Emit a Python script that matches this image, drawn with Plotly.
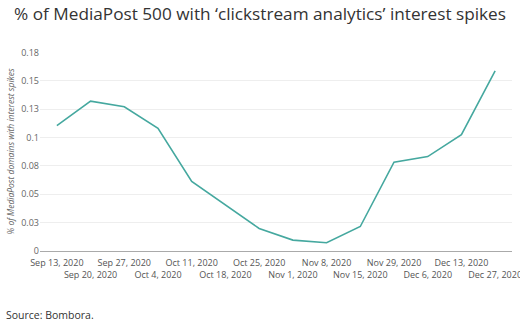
import plotly.graph_objects as go

weeks = ["Sep 13, 2020", "Sep 20, 2020", "Sep 27, 2020", "Oct 4, 2020", "Oct 11, 2020",
         "Oct 18, 2020", "Oct 25, 2020", "Nov 1, 2020", "Nov 8, 2020", "Nov 15, 2020",
         "Nov 29, 2020", "Dec 6, 2020", "Dec 13, 2020", "Dec 27, 2020"]
share = [0.1105, 0.1322, 0.1272, 0.1082, 0.0614, 0.0404, 0.0199, 0.0096, 0.0073,
         0.0216, 0.0784, 0.0833, 0.1026, 0.1588]
y_ticks = [0, 0.025, 0.05, 0.075, 0.1, 0.125, 0.15, 0.175]
y_labels = ["0", "0.03", "0.05", "0.08", "0.1", "0.13", "0.15", "0.18"]

tick_text = [w if i % 2 == 0 else "<br>" + w for i, w in enumerate(weeks)]

fig = go.Figure()
fig.add_trace(go.Scatter(x=list(range(len(weeks))), y=share, mode="lines",
                         line=dict(color="#45a89f", width=1.6), hoverinfo="skip"))

fig.update_layout(
    width=520, height=325,
    margin=dict(l=40, r=8, t=52, b=74),
    paper_bgcolor="white", plot_bgcolor="white",
    font=dict(family="Open Sans", color="#555555", size=9),
    showlegend=False,
    title=dict(text="% of MediaPost 500 with \u2018clickstream analytics\u2019 interest spikes",
               x=0.5, xanchor="center", y=1 - 14 / 325, yanchor="middle",
               font=dict(family="Open Sans", size=17.2, color="#333333")),
    xaxis=dict(tickmode="array", tickvals=list(range(len(weeks))), ticktext=tick_text,
               range=[-0.5, len(weeks) - 0.5], showgrid=False, zeroline=False,
               showline=True, linecolor="#aaaaaa", linewidth=1, ticks="",
               ticklabeloverflow="allow", ticklabelstandoff=3, automargin=False,
               tickfont=dict(size=9, color="#555555"), tickangle=0),
    yaxis=dict(tickmode="array", tickvals=y_ticks, ticktext=y_labels, range=[0, 0.1755],
               showgrid=True, gridcolor="#eeeeee", zeroline=False, showline=False,
               ticks="", tickfont=dict(size=9, color="#666666"), automargin=False,
               title=dict(text="<i>% of MediaPost domains with interest spikes</i>",
                          font=dict(size=8.5, color="#666666"), standoff=5)),
    annotations=[dict(text="Source: Bombora.", xref="paper", yref="paper",
                      x=-36 / 472, y=-(315 - 251) / 199.5, xanchor="left", yanchor="middle",
                      showarrow=False, font=dict(size=10.5, color="#333333"))],
)

fig.write_html("out.html")
